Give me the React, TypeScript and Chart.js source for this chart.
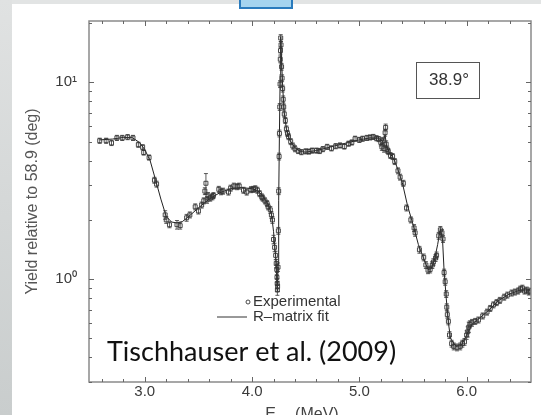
import React, { useEffect, useRef } from 'react';
import { Chart, registerables } from 'chart.js';
Chart.register(...registerables);

// Experimental points: energy (MeV), yield, relative error (%)
const expE = [
  2.58, 2.64, 2.69, 2.74, 2.79, 2.84, 2.89, 2.94, 2.98, 2.99, 3.04, 3.09, 3.11, 3.19, 3.2, 3.23, 3.3, 3.33, 3.39, 3.42,
  3.47, 3.5, 3.53, 3.55, 3.56, 3.57, 3.58, 3.59, 3.61, 3.63, 3.64, 3.69, 3.71, 3.73, 3.78, 3.8, 3.83, 3.86, 3.88, 3.92,
  3.95, 3.99, 4.01, 4.03, 4.05, 4.07, 4.09, 4.1, 4.12, 4.14, 4.15, 4.17, 4.18, 4.19, 4.2, 4.21, 4.22, 4.225, 4.23, 4.232,
  4.234, 4.236, 4.238, 4.242, 4.245, 4.248, 4.252, 4.255, 4.258, 4.261, 4.263, 4.265, 4.267, 4.27, 4.275, 4.28, 4.285, 4.29, 4.295, 4.3,
  4.31, 4.32, 4.33, 4.34, 4.36, 4.38, 4.4, 4.43, 4.46, 4.5, 4.53, 4.56, 4.6, 4.63, 4.66, 4.7, 4.74, 4.78, 4.82, 4.86,
  4.9, 4.93, 4.96, 5.0, 5.03, 5.07, 5.1, 5.13, 5.16, 5.18, 5.2, 5.21, 5.22, 5.23, 5.24, 5.245, 5.25, 5.26, 5.27, 5.29,
  5.31, 5.33, 5.36, 5.38, 5.41, 5.44, 5.48, 5.51, 5.52, 5.56, 5.6, 5.62, 5.64, 5.66, 5.68, 5.69, 5.71, 5.72, 5.74, 5.755,
  5.77, 5.78, 5.79, 5.8, 5.81, 5.815, 5.82, 5.83, 5.84, 5.86, 5.88, 5.91, 5.94, 5.96, 5.98, 6.0, 6.01, 6.02, 6.03, 6.05,
  6.08, 6.11, 6.15, 6.19, 6.22, 6.25, 6.28, 6.31, 6.35, 6.38, 6.42, 6.45, 6.48, 6.5, 6.52, 6.54, 6.56, 6.58, 6.59,
];
const expY = [
  5.05, 5.05, 4.92, 5.22, 5.22, 5.27, 5.22, 4.82, 4.68, 4.4, 4.15, 3.18, 3.04, 2.12, 2.0, 1.89, 1.89, 1.87, 2.05, 2.12,
  2.33, 2.22, 2.38, 2.5, 2.8, 3.07, 2.53, 2.65, 2.58, 2.62, 2.66, 2.86, 2.78, 2.8, 2.77, 2.9, 2.97, 2.95, 2.97, 2.83,
  2.77, 2.85, 2.86, 2.88, 2.83, 2.72, 2.62, 2.58, 2.5, 2.42, 2.33, 2.25, 2.12, 2.0, 1.59, 1.45, 1.32, 1.2, 1.12, 1.02,
  0.95, 0.88, 0.92, 1.15, 1.76, 2.8, 4.2, 5.5, 7.5, 9.8, 13.1, 14.5, 16.8, 15.5, 12.0, 10.5, 9.3, 8.2, 7.5, 6.9,
  6.4, 5.8, 5.5, 5.3, 5.0, 4.75, 4.6, 4.48, 4.42, 4.46, 4.45, 4.5, 4.5, 4.48, 4.58, 4.7, 4.62, 4.74, 4.78, 4.72,
  4.88, 4.95, 5.17, 5.1, 5.17, 5.22, 5.25, 5.28, 5.2, 5.15, 4.95, 4.7, 5.05, 4.6, 5.55, 5.9, 4.85, 4.55, 4.45, 4.25,
  4.2, 3.96, 3.55, 3.3, 3.07, 2.3, 2.0, 1.82, 1.72, 1.41, 1.29, 1.18, 1.11, 1.12, 1.18, 1.22, 1.28, 1.32, 1.66, 1.78,
  1.72, 1.6, 1.08, 0.97, 0.84, 0.72, 0.66, 0.61, 0.52, 0.47, 0.455, 0.45, 0.455, 0.47, 0.48, 0.52, 0.54, 0.57, 0.59, 0.6,
  0.61, 0.62, 0.65, 0.68, 0.71, 0.74, 0.76, 0.78, 0.81, 0.83, 0.85, 0.86, 0.87, 0.89, 0.9, 0.87, 0.88, 0.86, 0.87,
];
const expErrPct = [
  3, 3, 3, 3, 3, 3, 3, 3, 3, 3, 3, 3.5, 3.5, 5, 4, 3.5, 5, 4, 4, 3.5,
  3.5, 3.5, 3.5, 3.5, 4, 12, 4, 4, 3.5, 3.5, 3.5, 3.5, 3.5, 3.5, 3.5, 3.5, 3.5, 3.5, 3.5, 3.5,
  3.5, 3.5, 3.5, 3.5, 3.5, 3.5, 3.5, 3.5, 3.5, 3.5, 3.5, 4, 4, 4, 5, 5, 5, 5, 6, 6,
  6, 6, 6, 5, 4, 4, 4, 4, 4, 4, 4, 4, 4, 4, 4, 4, 4, 4, 3.5, 3.5,
  3.5, 3.5, 3.5, 3.5, 3.5, 3.5, 3.5, 3, 3, 3, 3, 3, 3, 3, 3, 3, 3, 3, 3, 3,
  3, 3, 3, 3, 3, 3, 3, 3, 3, 3, 4, 4, 4, 4, 4, 4, 4, 4, 3.5, 3.5,
  3.5, 3.5, 3.5, 3.5, 3.5, 3.5, 3.5, 4, 4, 4, 4, 4, 4, 4, 4, 4, 4, 4, 4, 4,
  4, 4, 4, 4, 4, 4, 4, 4, 4, 4, 4, 4, 4, 4, 4, 5, 6, 6, 4, 4,
  3.5, 3.5, 3.5, 3.5, 3.5, 3.5, 3.5, 3.5, 3.5, 3.5, 3.5, 3.5, 3.5, 3.5, 3.5, 3.5, 3.5, 3.5, 3.5,
];

// R-matrix fit curve
const fitE = [
  2.58, 2.7, 2.8, 2.88, 2.95, 3.0, 3.05, 3.1, 3.15, 3.2, 3.25, 3.3, 3.35, 3.4, 3.5, 3.6, 3.7, 3.8, 3.9, 4.0,
  4.05, 4.1, 4.15, 4.18, 4.2, 4.22, 4.23, 4.236, 4.242, 4.248, 4.255, 4.262, 4.267, 4.275, 4.285, 4.3, 4.32, 4.35, 4.4, 4.45,
  4.5, 4.6, 4.7, 4.8, 4.9, 5.0, 5.1, 5.18, 5.22, 5.24, 5.255, 5.28, 5.32, 5.36, 5.4, 5.45, 5.5, 5.55, 5.6, 5.64,
  5.67, 5.7, 5.73, 5.755, 5.775, 5.79, 5.81, 5.83, 5.85, 5.9, 5.95, 6.0, 6.05, 6.1, 6.2, 6.3, 6.4, 6.5, 6.59,
];
const fitY = [
  5.1, 5.15, 5.25, 5.25, 4.95, 4.55, 4.0, 3.2, 2.55, 2.08, 1.95, 1.93, 1.96, 2.06, 2.3, 2.55, 2.75, 2.88, 2.92, 2.88,
  2.82, 2.65, 2.4, 2.15, 1.75, 1.3, 1.0, 0.87, 1.2, 2.5, 5.5, 11, 17, 13, 9.5, 7.0, 5.8, 5.1, 4.65, 4.45,
  4.42, 4.5, 4.65, 4.8, 4.95, 5.1, 5.22, 5.2, 5.0, 5.4, 4.7, 4.4, 4.1, 3.6, 3.1, 2.35, 1.9, 1.5, 1.27, 1.12,
  1.13, 1.25, 1.5, 1.8, 1.6, 1.1, 0.8, 0.6, 0.5, 0.455, 0.46, 0.52, 0.59, 0.62, 0.69, 0.78, 0.84, 0.88, 0.88,
];

const xMajorTicks = [3, 4, 5, 6];
const xMinorTicks = [2.6, 2.8, 3.2, 3.4, 3.6, 3.8, 4.2, 4.4, 4.6, 4.8, 5.2, 5.4, 5.6, 5.8, 6.2, 6.4];
const yMajorTicks = [1, 10];
const yMinorTicks = [0.3, 0.4, 0.5, 0.6, 0.7, 0.8, 0.9, 2, 3, 4, 5, 6, 7, 8, 9, 20];
const xTickLabels = ['3.0', '4.0', '5.0', '6.0'];
const yTickLabels = ['10\u2070', '10\u00b9'];

const yTitle = 'Yield relative to 58.9 (deg)';
const xTitleMain = 'E';
const xTitleSub = 'lab';
const xTitleUnit = ' (MeV)';
const angleLabel = '38.9\u00b0';
const legendLabels = ['Experimental', 'R\u2013matrix fit'];
const citation = 'Tischhauser et al. (2009)';

const SANS = '"Liberation Sans", Arial, sans-serif';

const backgroundPlugin = {
  id: 'slideBackground',
  beforeDraw(chart: any) {
    const { ctx, width, height } = chart;
    ctx.save();
    ctx.fillStyle = '#ffffff';
    ctx.fillRect(0, 0, width, height);
    ctx.fillStyle = '#e2e4e4';
    ctx.fillRect(0, 0, width, 4);
    const g = ctx.createLinearGradient(0, 0, 0, height);
    g.addColorStop(0, '#e0e2e2');
    g.addColorStop(1, '#c9cdcd');
    ctx.fillStyle = g;
    ctx.fillRect(0, 0, 12, height);
    // blue tab at top
    ctx.fillStyle = '#a5d4ef';
    ctx.fillRect(240, -2, 52, 10);
    ctx.strokeStyle = '#2a7bbd';
    ctx.lineWidth = 2;
    ctx.strokeRect(240, -2, 52, 10);
    ctx.restore();
  },
};

const errorBarPlugin = {
  id: 'errorBars',
  afterDatasetsDraw(chart: any) {
    const { ctx, chartArea } = chart;
    const xs = chart.scales.x;
    const ys = chart.scales.y;
    ctx.save();
    ctx.beginPath();
    ctx.rect(chartArea.left, chartArea.top, chartArea.right - chartArea.left, chartArea.bottom - chartArea.top);
    ctx.clip();
    ctx.strokeStyle = '#333';
    ctx.lineWidth = 0.8;
    for (let i = 0; i < expE.length; i++) {
      const x = xs.getPixelForValue(expE[i]);
      const e = expErrPct[i] / 100;
      const y1 = ys.getPixelForValue(expY[i] * (1 + e));
      const y2 = ys.getPixelForValue(expY[i] * (1 - e));
      ctx.beginPath();
      ctx.moveTo(x, y1);
      ctx.lineTo(x, y2);
      ctx.moveTo(x - 2, y1);
      ctx.lineTo(x + 2, y1);
      ctx.moveTo(x - 2, y2);
      ctx.lineTo(x + 2, y2);
      ctx.stroke();
    }
    ctx.restore();
  },
};

const framePlugin = {
  id: 'frameAndTicks',
  afterDraw(chart: any) {
    const { ctx, chartArea } = chart;
    const { left, right, top, bottom } = chartArea;
    const xs = chart.scales.x;
    const ys = chart.scales.y;
    ctx.save();
    ctx.strokeStyle = '#8a8a8a';
    ctx.lineWidth = 1.5;
    ctx.strokeRect(left, top, right - left, bottom - top);
    ctx.lineWidth = 1;
    ctx.strokeStyle = '#666';
    const drawX = (v: number, len: number) => {
      const x = Math.round(xs.getPixelForValue(v)) + 0.5;
      ctx.beginPath();
      ctx.moveTo(x, bottom);
      ctx.lineTo(x, bottom - len);
      ctx.moveTo(x, top);
      ctx.lineTo(x, top + len);
      ctx.stroke();
    };
    const drawY = (v: number, len: number) => {
      const y = Math.round(ys.getPixelForValue(v)) + 0.5;
      ctx.beginPath();
      ctx.moveTo(left, y);
      ctx.lineTo(left + len, y);
      ctx.moveTo(right, y);
      ctx.lineTo(right - len, y);
      ctx.stroke();
    };
    xMajorTicks.forEach((v) => drawX(v, 5));
    xMinorTicks.forEach((v) => drawX(v, 3));
    yMajorTicks.forEach((v) => drawY(v, 5));
    yMinorTicks.forEach((v) => drawY(v, 3));

    // x-axis title with subscript
    ctx.fillStyle = '#444';
    ctx.textBaseline = 'alphabetic';
    ctx.textAlign = 'left';
    const cx = 302;
    ctx.font = `16px ${SANS}`;
    const wE = ctx.measureText(xTitleMain).width;
    const wU = ctx.measureText(xTitleUnit).width;
    ctx.font = `11px ${SANS}`;
    const wS = ctx.measureText(xTitleSub).width;
    let tx = cx - (wE + wS + wU) / 2;
    const by = bottom + 37;
    ctx.font = `16px ${SANS}`;
    ctx.fillText(xTitleMain, tx, by);
    tx += wE;
    ctx.font = `11px ${SANS}`;
    ctx.fillText(xTitleSub, tx, by + 4);
    tx += wS;
    ctx.font = `16px ${SANS}`;
    ctx.fillText(xTitleUnit, tx, by);

    // angle box
    const bx = right - 115;
    const byTop = top + 41;
    ctx.strokeStyle = '#555';
    ctx.lineWidth = 1;
    ctx.strokeRect(bx + 0.5, byTop + 0.5, 63, 36);
    ctx.fillStyle = '#333';
    ctx.textAlign = 'center';
    ctx.textBaseline = 'middle';
    ctx.font = `17px ${SANS}`;
    ctx.fillText(angleLabel, bx + 33, byTop + 18);

    // legend
    ctx.textAlign = 'left';
    ctx.textBaseline = 'middle';
    ctx.font = `15px ${SANS}`;
    ctx.fillStyle = '#333';
    const lx = 253;
    const ly1 = 302;
    const ly2 = 317;
    ctx.beginPath();
    ctx.arc(lx - 5, ly1, 2, 0, Math.PI * 2);
    ctx.strokeStyle = '#333';
    ctx.lineWidth = 0.9;
    ctx.stroke();
    ctx.fillText(legendLabels[0], lx, ly1);
    ctx.beginPath();
    ctx.moveTo(lx - 36, ly2);
    ctx.lineTo(lx - 6, ly2);
    ctx.lineWidth = 1;
    ctx.stroke();
    ctx.fillText(legendLabels[1], lx, ly2);

    // citation
    ctx.textBaseline = 'alphabetic';
    ctx.font = `27px Lato, "Open Sans", sans-serif`;
    ctx.fillStyle = '#111';
    ctx.fillText(citation, 107, 361);
    ctx.restore();
  },
};

export default function App() {
  const ref = useRef<HTMLCanvasElement | null>(null);
  useEffect(() => {
    document.body.style.margin = '0';
    document.body.style.overflow = 'hidden';
    const canvas = ref.current;
    if (!canvas) return;
    const chart = new Chart(canvas, {
      type: 'scatter',
      data: {
        datasets: [
          {
            label: legendLabels[1],
            data: fitE.map((x, i) => ({ x, y: fitY[i] })),
            showLine: true,
            borderColor: '#222',
            borderWidth: 1,
            pointRadius: 0,
            tension: 0,
            order: 2,
          },
          {
            label: legendLabels[0],
            data: expE.map((x, i) => ({ x, y: expY[i] })),
            showLine: false,
            pointStyle: 'rect',
            pointRadius: 2.8,
            borderColor: '#333',
            borderWidth: 0.9,
            backgroundColor: 'rgba(255,255,255,0)',
            order: 1,
          },
        ],
      },
      options: {
        animation: false,
        responsive: false,
        events: [],
        layout: { padding: { left: 0, right: 10, top: 15, bottom: 0 } },
        plugins: { legend: { display: false }, tooltip: { enabled: false } },
        scales: {
          x: {
            type: 'linear',
            min: 2.48,
            max: 6.6,
            grid: { display: false, drawTicks: false },
            border: { display: false },
            ticks: {
              color: '#3a3a3a',
              font: { family: SANS, size: 15 },
              padding: 1,
              autoSkip: false,
              maxRotation: 0,
              callback: (v: any) => {
                const i = xMajorTicks.indexOf(Number(v));
                return i >= 0 ? xTickLabels[i] : '';
              },
            },
            afterBuildTicks: (s: any) => {
              s.ticks = xMajorTicks.map((value) => ({ value }));
            },
            afterFit: (s: any) => {
              s.height = 33;
            },
          },
          y: {
            type: 'logarithmic',
            min: 0.3,
            max: 20.5,
            grid: { display: false, drawTicks: false },
            border: { display: false },
            ticks: {
              color: '#3a3a3a',
              font: { family: SANS, size: 15 },
              padding: 12,
              autoSkip: false,
              callback: (v: any) => {
                const i = yMajorTicks.indexOf(Number(v));
                return i >= 0 ? yTickLabels[i] : '';
              },
            },
            afterBuildTicks: (s: any) => {
              s.ticks = yMajorTicks.map((value) => ({ value }));
            },
            afterFit: (s: any) => {
              s.width = 89;
            },
            title: {
              display: true,
              text: yTitle,
              color: '#555',
              font: { family: SANS, size: 16 },
              padding: { top: 23, bottom: 0 },
            },
          },
        },
      },
      plugins: [backgroundPlugin, errorBarPlugin, framePlugin],
    });
    return () => chart.destroy();
  }, []);
  return <canvas ref={ref} width={541} height={415} style={{ display: 'block' }} />;
}
